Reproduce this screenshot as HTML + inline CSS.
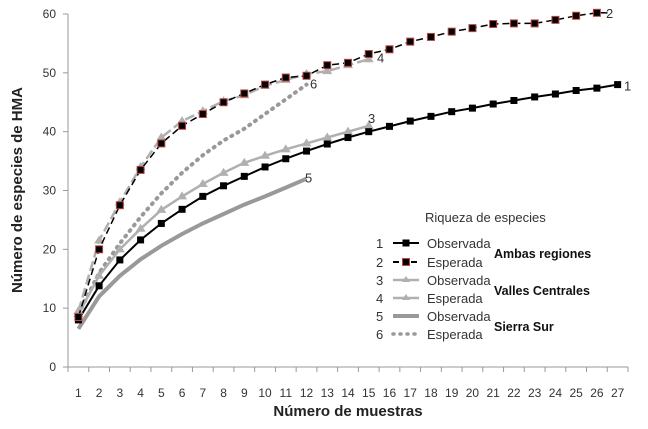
<!DOCTYPE html>
<html><head><meta charset="utf-8"><style>
body{margin:0;background:#fff;}
svg text{font-family:"Liberation Sans",sans-serif;}
</style></head><body>
<svg id="c" width="648" height="424"></svg>
<script>
const categories=[1,2,3,4,5,6,7,8,9,10,11,12,13,14,15,16,17,18,19,20,21,22,23,24,25,26,27];
const yTicks=[0,10,20,30,40,50,60];
const s1=[8,13.8,18.2,21.6,24.4,26.8,29,30.8,32.4,34,35.4,36.7,37.9,39,40,40.9,41.8,42.6,43.4,44,44.7,45.3,45.9,46.4,47,47.4,48];
const s2=[8.5,20,27.5,33.5,38,41,43,45,46.5,48,49.2,49.5,51.3,51.7,53.2,54,55.3,56.1,57,57.6,58.3,58.4,58.4,59,59.7,60.2];
const s3=[9,15.5,20,23.5,26.7,29,31.1,33,34.7,35.9,37,38,39,40,41];
const s4=[9.5,21.5,28,34,39,41.8,43.5,45.2,46.2,47.8,48.8,49.8,50.3,51.3,52.3];
const s5=[6.5,12,15.5,18.3,20.6,22.6,24.4,26,27.6,29,30.5,32];
const s6=[9,16,21,25.5,29.5,33,36,38.5,40.5,43,45.5,48];
const NS="http://www.w3.org/2000/svg";
const svg=document.getElementById('c');
const L=68,R=628,T=14,B=367;
const bw=(R-L)/categories.length;
const xs=i=>L+bw*(i+0.5);
const ys=v=>B-(v/60)*(B-T);
function el(t,a,p){const e=document.createElementNS(NS,t);for(const k in a)e.setAttribute(k,a[k]);(p||svg).appendChild(e);return e;}
let e=el('line',{x1:L,y1:T,x2:L,y2:B,stroke:'#999'});


e=el('line',{x1:L,y1:B,x2:R,y2:B,stroke:'#999'});


yTicks.forEach(v=>{
 el('line',{x1:L-5,y1:ys(v),x2:L,y2:ys(v),stroke:'#999'});
 const t=el('text',{x:L-12,y:ys(v)+4,'text-anchor':'end','font-size':12,fill:'#333'});t.textContent=v;
 
 
});
for(let i=0;i<=categories.length;i++)el('line',{x1:L+bw*i,y1:B,x2:L+bw*i,y2:B+5,stroke:'#999'});
categories.forEach((c,i)=>{
 const t=el('text',{x:xs(i),y:397,'text-anchor':'middle','font-size':12,fill:'#333'});t.textContent=c;
 
 
});
let t=el('text',{x:348,y:416,'text-anchor':'middle','font-size':15,'font-weight':'bold',fill:'#222'});t.textContent='Número de muestras';


t=el('text',{x:0,y:0,'text-anchor':'middle','font-size':15,'font-weight':'bold',fill:'#222',transform:'translate(22,190) rotate(-90)'});t.textContent='Número de especies de HMA';


function path(arr){return arr.map((v,i)=>(i?'L':'M')+xs(i).toFixed(1)+','+ys(v).toFixed(1)).join('');}
function series(arr,name,stroke,w,dash,marker,label,lx,ly,extend){
 const g=el('g',{});
 
 
 let d=path(arr);
 if(extend)d+='L'+(xs(arr.length-1)+bw*0.6)+','+ys(arr[arr.length-1]);
 const a={d:d,fill:'none',stroke:stroke,'stroke-width':w,'stroke-linecap':dash==='1 6'?'round':'butt'};
 if(dash)a['stroke-dasharray']=dash;
 el('path',a,g);
 arr.forEach((v,i)=>{
  let m=null;
  if(marker==='sq')m=el('rect',{x:xs(i)-3.5,y:ys(v)-3.5,width:7,height:7,fill:'#000'},g);
  if(marker==='sqr')m=el('rect',{x:xs(i)-3.5,y:ys(v)-3.5,width:7,height:7,fill:'#000',stroke:'#b44','stroke-width':1},g);
  if(marker==='tri')m=el('path',{d:`M${xs(i)},${ys(v)-5}l5,8h-10z`,fill:'#b0b0b0'},g);
  if(m){}
 });
 const tl=el('text',{x:lx,y:ly,'font-size':13,fill:'#333'},g);tl.textContent=label;
}
series(s5,'series-5-sierra-observada','#999',4,null,null,'5',305,ys(s5[11])+4);
series(s6,'series-6-sierra-esperada','#999',4,'1 6',null,'6',310,ys(s6[11])+4);
series(s3,'series-3-valles-observada','#b0b0b0',2.5,null,'tri','3',368,ys(s3[14])-3);
series(s1,'series-1-ambas-observada','#000',2,null,'sq','1',624,ys(s1[26])+6);
series(s4,'series-4-valles-esperada','#b0b0b0',2.5,'10 4','tri','4',377,ys(s4[14])+3);
series(s2,'series-2-ambas-esperada','#000',1.5,'7 4','sqr','2',606,ys(s2[25])+5,true);
const lg=el('g',{});


t=el('text',{x:425,y:222,'font-size':13,fill:'#333'},lg);t.textContent='Riqueza de especies';
const rows=[['1','Observada','#000',2,null,'sq'],['2','Esperada','#000',2,'6 3','sqr'],['3','Observada','#b0b0b0',2.5,null,'tri'],['4','Esperada','#b0b0b0',2.5,null,'tri'],['5','Observada','#999',4,null,null],['6','Esperada','#999',3.5,'1 6',null]];
const ry=[243,262,280,298,316,334];
rows.forEach((r,i)=>{
 const y=ry[i];
 const g=el('g',{},lg);
 
 
 let a=el('text',{x:376,y:y+5,'font-size':13,fill:'#333'},g);a.textContent=r[0];
 const la={x1:393,y1:y,x2:419,y2:y,stroke:r[2],'stroke-width':r[3]};
 if(r[4])la['stroke-dasharray']=r[4];
 if(r[4]==='1 6')la['stroke-linecap']='round';
 el('line',la,g);
 if(r[5]==='sq')el('rect',{x:402.5,y:y-3.5,width:7,height:7,fill:'#000'},g);
 if(r[5]==='sqr')el('rect',{x:402.5,y:y-3.5,width:7,height:7,fill:'#000',stroke:'#b44'},g);
 if(r[5]==='tri')el('path',{d:`M406,${y-4}l4,6h-8z`,fill:'#b0b0b0'},g);
 a=el('text',{x:427,y:y+5,'font-size':13,fill:'#333'},g);a.textContent=r[1];
});
[['Ambas regiones',258],['Valles Centrales',295],['Sierra Sur',331]].forEach(g=>{
 const x=el('text',{x:494,y:g[1],'font-size':12.5,'font-weight':'bold',fill:'#111'},lg);x.textContent=g[0];
 
 
});
</script>
</body></html>
